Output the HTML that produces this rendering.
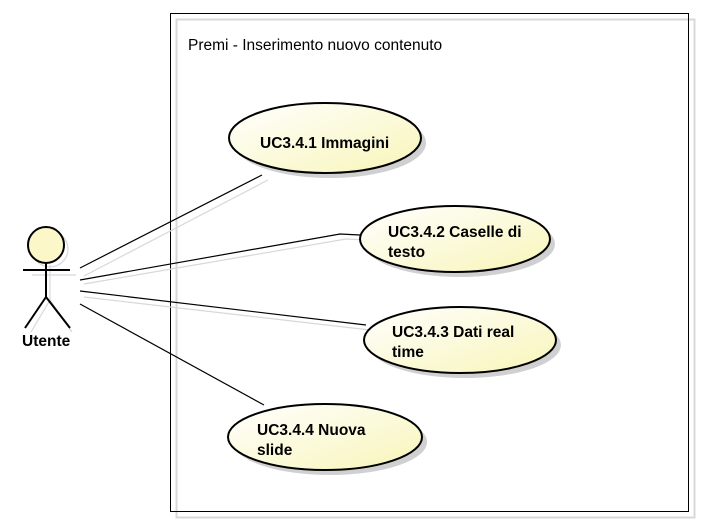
<!DOCTYPE html>
<html><head><meta charset="utf-8"><style>
html,body{margin:0;padding:0;background:#fff;}
svg{display:block;}
text{font-family:"Liberation Sans",Arial,sans-serif;font-size:15.5px;fill:#000;}
.b{font-weight:bold;}
</style></head><body>
<svg width="701" height="526" viewBox="0 0 701 526" xmlns="http://www.w3.org/2000/svg">
<defs>
<linearGradient id="g" x1="0" y1="0" x2="1" y2="1">
<stop offset="0" stop-color="#ffffff"/><stop offset="1" stop-color="#f8f5b8"/>
</linearGradient>
</defs>
<rect x="176.5" y="19.5" width="518" height="498" fill="none" stroke="#d8d8d8" stroke-width="2"/>
<rect x="170.5" y="13.5" width="518" height="498" fill="none" stroke="#000" stroke-width="1"/>
<text x="188" y="50">Premi - Inserimento nuovo contenuto</text>

<g stroke="#d8d8d8" stroke-width="1.2" fill="none">
<line x1="84" y1="276" x2="268" y2="180"/>
<polyline points="84,284 346,239 366,240"/>
<line x1="84" y1="297" x2="370" y2="330"/>
<path d="M32,275 H76 M50,265 V300 L31,332 M50,300 L72,332"/>
<circle cx="50" cy="249" r="18"/>
</g>
<g stroke="#000" stroke-width="1.2" fill="none">
<line x1="80" y1="268" x2="262" y2="175"/>
<polyline points="80,280 340,234 360,235"/>
<line x1="80" y1="291" x2="366" y2="325"/>
<line x1="80" y1="304" x2="264" y2="405"/>
</g>

<g fill="#d0d0d0">
<ellipse cx="330" cy="143" rx="96" ry="35"/>
<ellipse cx="460" cy="244" rx="95" ry="33"/>
<ellipse cx="465" cy="345" rx="96" ry="33"/>
<ellipse cx="330" cy="442" rx="97" ry="33"/>
</g>
<g fill="url(#g)" stroke="#000" stroke-width="2">
<ellipse cx="325" cy="138" rx="96" ry="35"/>
<ellipse cx="455" cy="239" rx="95" ry="33"/>
<ellipse cx="460" cy="340" rx="96" ry="33"/>
<ellipse cx="325" cy="437" rx="97" ry="33"/>
</g>
<text class="b" x="260" y="148">UC3.4.1 Immagini</text>
<text class="b" x="388" y="237">UC3.4.2 Caselle di</text>
<text class="b" x="388" y="257">testo</text>
<text class="b" x="392" y="337">UC3.4.3 Dati real</text>
<text class="b" x="392" y="357">time</text>
<text class="b" x="257" y="435">UC3.4.4 Nuova</text>
<text class="b" x="257" y="455">slide</text>

<g stroke="#000" stroke-width="2" fill="none">
<circle cx="46" cy="245" r="18" fill="#fbf7c9"/>
<path d="M23,270 H70 M46,263 V297 L25,328 M46,297 L70,328"/>
</g>
<text class="b" x="22" y="346">Utente</text>
</svg>
</body></html>
